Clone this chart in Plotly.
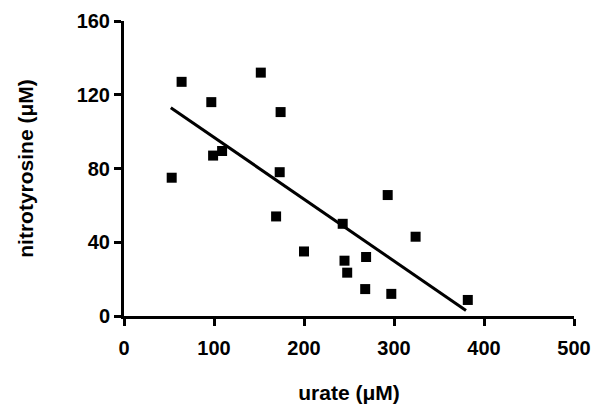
import plotly.graph_objects as go

urate = [53, 64, 97, 99, 109, 152, 174, 173, 169, 200, 243, 245, 248, 269, 268, 293, 297, 324, 382]
nitrotyrosine = [75, 127, 116, 87, 89.5, 132, 110.6, 78, 54, 35, 50, 30, 23.5, 32, 14.6, 65.6, 12, 43, 8.7]
fit_x = [52, 380]
fit_y = [113, 3]
x_ticks = [0, 100, 200, 300, 400, 500]
y_ticks = [0, 40, 80, 120, 160]

fam = "Liberation Sans, Arial, sans-serif"

fig = go.Figure()
fig.add_trace(go.Scatter(x=fit_x, y=fit_y, mode="lines",
                         line=dict(color="black", width=3), showlegend=False))
fig.add_trace(go.Scatter(x=urate, y=nitrotyrosine, mode="markers",
                         marker=dict(symbol="square", size=10, color="black"),
                         showlegend=False))

fig.update_layout(
    width=593, height=404,
    margin=dict(l=124, r=19, t=21, b=88),
    paper_bgcolor="white", plot_bgcolor="white",
    font=dict(family=fam, size=19, color="black"),
    xaxis=dict(range=[0, 500], tickvals=x_ticks, ticktext=[f"<b>{v}</b>" for v in x_ticks],
               showgrid=False, zeroline=False, automargin=False,
               showline=True, linecolor="black", linewidth=3,
               ticks="outside", ticklen=7, tickwidth=3, tickcolor="black",
               ticklabelstandoff=5,
               tickfont=dict(size=20, family=fam, color="black", weight="bold"),
               title=dict(text="<b>urate (μM)</b>", font=dict(size=21, family=fam), standoff=32)),
    yaxis=dict(range=[0, 160], tickvals=y_ticks, ticktext=[f"<b>{v}</b>" for v in y_ticks],
               showgrid=False, zeroline=False, automargin=False,
               showline=True, linecolor="black", linewidth=3,
               ticks="outside", ticklen=7, tickwidth=3, tickcolor="black",
               tickfont=dict(size=20, family=fam, color="black", weight="bold"),
               title=dict(text="<b>nitrotyrosine (μM)</b>", font=dict(size=21, family=fam), standoff=38)),
)

fig.write_html("out.html", config={"displayModeBar": False})
with open("out.html", encoding="utf-8") as f:
    html = f.read()
html = html.replace("<head>", "<head><style>html,body{margin:0;padding:0;}</style>", 1)
with open("out.html", "w", encoding="utf-8") as f:
    f.write(html)
